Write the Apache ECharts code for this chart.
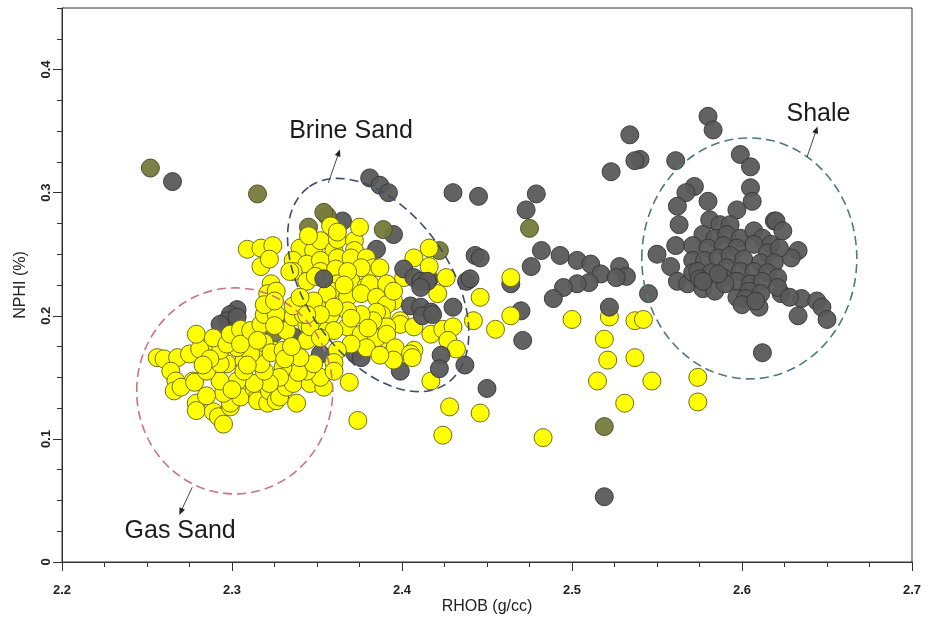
<!DOCTYPE html>
<html>
<head>
<meta charset="utf-8">
<script src="https://cdn.jsdelivr.net/npm/echarts@6/dist/echarts.min.js"></script>
<style>html,body{margin:0;padding:0;background:#fff;}#chart{width:933px;height:617px;}</style>
</head>
<body>
<div id="chart"></div>
<script>
// ---- data (RHOB g/cc, NPHI) ----
const xTickLabels = [2.2, 2.3, 2.4, 2.5, 2.6, 2.7];
const yTickLabels = [0, 0.1, 0.2, 0.3, 0.4];

const grayBack = [
[2.265,0.309],
[2.303,0.205],[2.299,0.201],[2.297,0.196],[2.293,0.193],[2.303,0.199],[2.326,0.199],
[2.352,0.169],[2.336,0.183],[2.372,0.170],[2.376,0.166],[2.399,0.155],[2.365,0.277],
[2.381,0.312],[2.387,0.306],[2.392,0.300],[2.395,0.266],[2.385,0.254],[2.416,0.230],
[2.437,0.160],[2.450,0.141],
[2.430,0.300],[2.445,0.297],[2.443,0.249],[2.446,0.247],[2.438,0.228],
[2.479,0.299],[2.473,0.286],[2.482,0.253],[2.476,0.240],[2.493,0.249],[2.503,0.245],[2.511,0.242],
[2.517,0.234],[2.528,0.240],[2.532,0.232],[2.526,0.231],[2.510,0.227],[2.503,0.226],[2.495,0.223],
[2.489,0.214],[2.470,0.204],[2.471,0.180],[2.464,0.226],[2.519,0.053],
[2.580,0.362],[2.583,0.351],[2.534,0.347],[2.540,0.327],[2.537,0.326],[2.523,0.317],[2.561,0.326],
[2.599,0.331],[2.605,0.321],[2.605,0.304],[2.606,0.293],[2.597,0.286],[2.572,0.305],[2.567,0.300],
[2.580,0.293],[2.562,0.289],[2.563,0.274],[2.561,0.257],[2.550,0.250],[2.558,0.240],[2.562,0.228],
[2.545,0.218],[2.568,0.226],[2.577,0.222],[2.584,0.220],[2.619,0.277],[2.633,0.253],[2.629,0.247],
[2.623,0.218],[2.635,0.214],[2.633,0.200],[2.644,0.212],[2.647,0.207],[2.650,0.197],[2.612,0.170],
[2.597,0.215],[2.610,0.207],
[2.581,0.278],[2.587,0.274],[2.593,0.274],[2.577,0.266],[2.584,0.263],[2.591,0.266],[2.599,0.263],
[2.607,0.269],[2.612,0.263],[2.620,0.277],[2.624,0.269],[2.617,0.258],[2.571,0.257],[2.580,0.255],
[2.589,0.257],[2.597,0.255],[2.607,0.258],[2.615,0.251],[2.622,0.255],[2.571,0.245],[2.578,0.245],
[2.586,0.247],[2.593,0.249],[2.601,0.246],[2.611,0.243],[2.619,0.243],[2.571,0.235],[2.574,0.236],
[2.582,0.235],[2.591,0.239],[2.599,0.236],[2.607,0.236],[2.615,0.235],[2.621,0.231],[2.575,0.230],
[2.589,0.231],[2.597,0.228],[2.605,0.226],[2.612,0.228],[2.621,0.223],[2.604,0.220],[2.611,0.218],
[2.602,0.214],[2.628,0.215],[2.590,0.226],[2.586,0.234],[2.577,0.228],[2.600,0.209],[2.608,0.212]
];

const olive = [
[2.252,0.320],[2.315,0.299],[2.475,0.271],[2.519,0.110],[2.345,0.272],[2.356,0.281],
[2.354,0.284],[2.389,0.270],[2.422,0.253],[2.325,0.186],[2.377,0.243]
];

const yellow = [
[2.256,0.166],[2.260,0.165],[2.268,0.166],[2.275,0.169],[2.264,0.155],[2.267,0.147],[2.266,0.139],
[2.277,0.147],[2.270,0.142],[2.278,0.146],[2.279,0.129],[2.279,0.123],[2.289,0.122],[2.292,0.118],
[2.295,0.112],[2.299,0.126],[2.299,0.129],[2.295,0.137],[2.305,0.134],[2.313,0.141],[2.315,0.134],
[2.315,0.131],[2.321,0.129],[2.322,0.139],[2.326,0.131],[2.328,0.134],[2.332,0.142],[2.338,0.129],
[2.336,0.145],[2.346,0.145],[2.354,0.142],[2.352,0.150],[2.344,0.155],[2.339,0.154],[2.348,0.161],
[2.340,0.166],[2.330,0.158],[2.328,0.150],[2.322,0.145],[2.313,0.145],[2.303,0.147],[2.293,0.147],
[2.285,0.155],[2.297,0.161],[2.293,0.161],[2.307,0.164],[2.307,0.155],[2.319,0.155],[2.317,0.161],
[2.324,0.172],[2.313,0.172],[2.311,0.169],[2.303,0.174],[2.293,0.172],[2.283,0.174],[2.281,0.173],
[2.279,0.185],[2.289,0.182],[2.297,0.177],[2.299,0.185],[2.305,0.189],[2.305,0.177],[2.311,0.188],
[2.317,0.193],[2.319,0.178],[2.323,0.170],[2.330,0.172],[2.319,0.201],[2.326,0.201],[2.332,0.188],
[2.336,0.199],[2.344,0.193],[2.344,0.180],[2.346,0.191],[2.356,0.188],[2.342,0.201],[2.336,0.208],
[2.350,0.207],[2.358,0.201],
[2.285,0.135],[2.287,0.165],[2.309,0.160],[2.331,0.165],[2.300,0.140],[2.283,0.160],[2.335,0.175],
[2.315,0.180],[2.325,0.192],
[2.309,0.254],[2.317,0.255],[2.324,0.257],[2.317,0.240],[2.322,0.246],[2.323,0.226],[2.321,0.218],
[2.319,0.209],[2.326,0.220],[2.325,0.212],
[2.340,0.255],[2.348,0.253],[2.352,0.261],[2.360,0.253],[2.362,0.262],[2.372,0.261],[2.372,0.253],
[2.375,0.272],[2.358,0.273],[2.336,0.245],[2.344,0.242],[2.352,0.245],[2.362,0.247],[2.370,0.247],
[2.379,0.247],[2.383,0.239],[2.376,0.239],[2.387,0.239],[2.352,0.236],[2.361,0.238],[2.336,0.236],
[2.334,0.236],[2.344,0.228],[2.362,0.226],[2.370,0.228],[2.379,0.224],[2.381,0.226],[2.391,0.226],
[2.401,0.231],[2.407,0.247],[2.416,0.255],[2.416,0.240],[2.426,0.231],[2.421,0.218],[2.395,0.212],
[2.358,0.220],[2.356,0.218],[2.348,0.212],[2.340,0.215],[2.368,0.215],[2.376,0.218],[2.385,0.215],
[2.391,0.209],[2.388,0.201],[2.385,0.203],[2.399,0.196],[2.399,0.193],[2.391,0.191],[2.383,0.196],
[2.376,0.201],[2.368,0.204],[2.360,0.207],[2.352,0.201],[2.344,0.201],[2.368,0.191],[2.376,0.185],
[2.360,0.188],[2.352,0.182],[2.387,0.180],[2.385,0.182],[2.391,0.185],[2.396,0.174],[2.379,0.174],
[2.370,0.177],[2.362,0.172],[2.407,0.172],[2.405,0.169],[2.406,0.166],[2.395,0.164],[2.387,0.168],
[2.360,0.162],[2.360,0.155],[2.369,0.146],[2.374,0.115],[2.407,0.191],[2.417,0.185],[2.424,0.189],
[2.430,0.191],[2.427,0.180],[2.432,0.173],[2.417,0.147],[2.428,0.126],[2.424,0.103],
[2.349,0.232],[2.368,0.236],[2.370,0.198],[2.380,0.190],[2.395,0.220],[2.366,0.225],[2.345,0.265],
[2.362,0.268],
[2.446,0.215],[2.442,0.196],[2.455,0.189],[2.446,0.121],[2.464,0.231],[2.464,0.200],[2.483,0.101],
[2.500,0.197],[2.522,0.199],[2.519,0.181],[2.521,0.164],[2.515,0.147],[2.537,0.196],[2.542,0.197],
[2.537,0.166],[2.547,0.147],[2.531,0.129],[2.574,0.150],[2.574,0.130]
];

const grayFront = [
[2.354,0.230],[2.401,0.238],[2.407,0.231],[2.411,0.228],[2.415,0.228],[2.411,0.223],[2.405,0.208],
[2.411,0.207],[2.417,0.203],[2.412,0.200],[2.418,0.201],[2.430,0.207],[2.423,0.168],[2.422,0.157],
[2.440,0.230],[2.522,0.207]
];

// annotations (data coordinates)
const zones = [
  {label:'Gas Sand', center:[2.3016,0.139], rx:98, ry:103, rotDeg:0, color:'#c8767e',
   arrowFrom:[2.2766,0.0607], arrowTo:[2.2695,0.0397], textAt:[2.2695,0.0251]},
  {label:'Brine Sand', center:[2.386,0.225], rx:120, ry:72, rotDeg:-55, color:'#3d4b6c',
   arrowFrom:[2.3567,0.308], arrowTo:[2.3631,0.3336], textAt:[2.370,0.350]},
  {label:'Shale', center:[2.6043,0.2466], rx:107.5, ry:120.5, rotDeg:0, color:'#4d7a7c',
   arrowFrom:[2.6382,0.3287], arrowTo:[2.6440,0.3522], textAt:[2.645,0.3636]}
];

const chart = echarts.init(document.getElementById('chart'));
const FONT = '"Liberation Sans", Arial, sans-serif';
const axisCol = '#333';

function mkScatter(data, fill, border, opacity, z) {
  return {type:'scatter', data:data, symbolSize:18, z:z, xAxisIndex:0, yAxisIndex:0,
    itemStyle:{color:fill, borderColor:border, borderWidth:1, opacity:opacity}};
}

chart.setOption({
  animation:false,
  backgroundColor:'#fff',
  grid:{left:62, right:21, top:8, bottom:55, outerBoundsMode:'none', containLabel:false,
        show:true, borderColor:axisCol, borderWidth:1, backgroundColor:'transparent'},
  xAxis:[
    {type:'value', min:2.2, max:2.7, interval:0.025, position:'bottom',
     axisLine:{show:true, lineStyle:{color:axisCol}}, axisTick:{show:true, length:5, lineStyle:{color:axisCol}},
     axisLabel:{show:false}, splitLine:{show:false}},
    {type:'value', min:2.2, max:2.7, interval:0.1, position:'bottom',
     axisLine:{show:false}, axisTick:{show:true, length:9, lineStyle:{color:axisCol}},
     axisLabel:{show:true, margin:22, color:'#222', fontFamily:FONT, fontSize:13, fontWeight:'bold',
       formatter: v => xTickLabels.some(t => Math.abs(t - v) < 1e-6) ? v.toFixed(1) : ''},
     splitLine:{show:false},
     name:'RHOB (g/cc)', nameLocation:'middle', nameGap:37, nameMoveOverlap:false,
     nameTextStyle:{color:'#222', fontFamily:FONT, fontSize:16}}
  ],
  yAxis:[
    {type:'value', min:0, max:0.45, interval:0.025, position:'left',
     axisLine:{show:true, lineStyle:{color:axisCol}}, axisTick:{show:true, length:5, lineStyle:{color:axisCol}},
     axisLabel:{show:false}, splitLine:{show:false}},
    {type:'value', min:0, max:0.45, interval:0.1, position:'left',
     axisLine:{show:false}, axisTick:{show:true, length:9, lineStyle:{color:axisCol},
       customValues: yTickLabels},
     axisLabel:{show:true, margin:9, rotate:90, color:'#222', fontFamily:FONT, fontSize:13, fontWeight:'bold',
       customValues: yTickLabels,
       formatter: v => Math.abs(v) < 1e-9 ? '0' : v.toFixed(1)},
     splitLine:{show:false},
     name:'NPHI (%)', nameLocation:'middle', nameGap:33, nameRotate:90, nameMoveOverlap:false,
     nameTextStyle:{color:'#222', fontFamily:FONT, fontSize:16}}
  ],
  series:[
    mkScatter(grayBack, '#5a5a5a', '#373737', 0.95, 2),
    mkScatter(olive, '#767a3c', '#4b4e25', 0.95, 3),
    mkScatter(yellow, '#ffff00', '#6f6f1c', 1, 4),
    mkScatter(grayFront, '#5a5a5a', '#373737', 0.95, 5)
  ]
});

function px(p){ return chart.convertToPixel({xAxisIndex:0, yAxisIndex:0}, p); }

const g = [];
zones.forEach(zn => {
  const c = px(zn.center);
  g.push({type:'ellipse', z:100, x:c[0], y:c[1], rotation: zn.rotDeg*Math.PI/180,
    shape:{cx:0, cy:0, rx:zn.rx, ry:zn.ry},
    style:{fill:'none', stroke:zn.color, lineWidth:1.6, lineDash:[9,5]}});
  const a = px(zn.arrowFrom), b = px(zn.arrowTo);
  g.push({type:'line', z:100, shape:{x1:a[0], y1:a[1], x2:b[0], y2:b[1]}, style:{stroke:'#444', lineWidth:1}});
  const ang = Math.atan2(b[1]-a[1], b[0]-a[0]);
  const L = 7, W = 3;
  const tip = [b[0] + Math.cos(ang)*2, b[1] + Math.sin(ang)*2];
  const base = [tip[0] - Math.cos(ang)*L, tip[1] - Math.sin(ang)*L];
  const p1 = [base[0] + Math.sin(ang)*W, base[1] - Math.cos(ang)*W];
  const p2 = [base[0] - Math.sin(ang)*W, base[1] + Math.cos(ang)*W];
  g.push({type:'polygon', z:100, shape:{points:[tip,p1,p2]}, style:{fill:'#222'}});
  const t = px(zn.textAt);
  g.push({type:'text', z:100, x:t[0], y:t[1],
    style:{text:zn.label, fill:'#1c1c1c', font:'25px ' + FONT, textAlign:'center', textVerticalAlign:'middle'}});
});
chart.setOption({graphic:g});
</script>
</body>
</html>
